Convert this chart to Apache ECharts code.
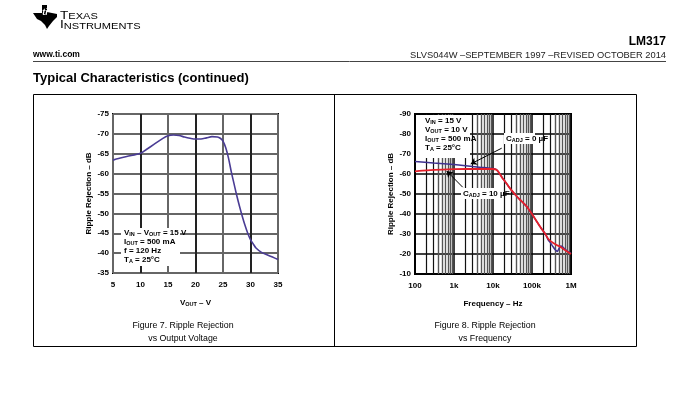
<!DOCTYPE html>
<html><head><meta charset="utf-8">
<script src="https://cdn.jsdelivr.net/npm/echarts@6/dist/echarts.min.js"></script>
<style>html,body{margin:0;padding:0;background:#fff}#c{width:673px;height:395px}</style>
</head><body><div id="c"></div>
<script>
// Figure 7: ripple rejection vs output voltage
const vout = [5, 6, 7.5, 10, 11, 12.5, 14, 15, 16, 17, 18, 19, 20, 21, 22, 23, 24, 24.5, 25, 25.5, 26, 26.5, 27, 27.5, 28, 28.5, 29, 29.5, 30, 30.5, 31, 32, 33, 34, 35];
const rejVout = [-63.4, -63.8, -64.3, -65.1, -66, -67.4, -68.8, -69.5, -69.7, -69.6, -69.2, -68.9, -68.7, -68.7, -69.0, -69.3, -69.2, -68.9, -68.2, -66.5, -63.9, -60.5, -57.5, -54.5, -51.8, -49.3, -47, -45, -43.4, -42.3, -41.3, -40.2, -39.6, -39, -38.4];
// Figure 8: ripple rejection vs frequency
const freqC0 = [100, 300, 1000, 3000, 5000, 10000, 12000, 13500, 15000, 17000, 20000, 25000, 30000, 40000, 50000, 60000, 73000, 85000, 100000, 130000, 170000, 220000, 262000, 300000, 350000, 400000, 446000, 500000, 544000, 620000, 700000, 850000, 1000000];
const rejC0 = [-66.3, -65.5, -64.7, -63.7, -63.3, -62.7, -62.3, -61.3, -60, -58.3, -56.5, -53.8, -51.8, -49, -47, -45.5, -43.8, -42, -40, -36.5, -33, -30, -27, -25.5, -23.5, -22, -21.3, -23, -24, -23.5, -22.3, -21.2, -20.3];
const freqC10 = [100, 200, 500, 1000, 2000, 5000, 10000, 12000, 13500, 15000, 17000, 20000, 25000, 30000, 40000, 50000, 60000, 73000, 85000, 100000, 130000, 170000, 220000, 262000, 350000, 450000, 530000, 700000, 1000000];
const rejC10 = [-61.3, -61.8, -62.2, -62.4, -62.5, -62.5, -62.5, -62.2, -61.3, -60, -58.3, -56.5, -53.8, -51.8, -49, -47, -45.5, -43.8, -42, -40, -36.5, -33, -30, -27.5, -25.5, -24.3, -23.6, -22, -20];
const freqTickLabels = {100: '100', 1000: '1k', 10000: '10k', 100000: '100k', 1000000: '1M'};
const minorFreqs = [200,300,400,500,600,700,800,900,2000,3000,4000,5000,6000,7000,8000,9000,20000,30000,40000,50000,60000,70000,80000,90000,200000,300000,400000,500000,600000,700000,800000,900000];

const F = '"Liberation Sans", Arial, sans-serif';
const lab = {fontFamily: F, fontWeight: 'bold', fontSize: 8, color: '#000'};
const rich = {
  n: {fontFamily: F, fontWeight: 'bold', fontSize: 8, color: '#000'},
  s: {fontFamily: F, fontWeight: 'bold', fontSize: 5.5, color: '#000', verticalAlign: 'bottom'}
};
function txt(x, y, text, extra) {
  return Object.assign({type: 'text', x: x, y: y, z: 60, style: Object.assign({text: text, rich: rich, fill: '#000', font: 'bold 8px ' + F, verticalAlign: 'middle'}, extra || {})});
}
const logoRich = {b: {fontFamily: F, fontSize: 10.5, fill: '#000', verticalAlign: 'bottom'}, m: {fontFamily: F, fontSize: 8.5, fill: '#000', verticalAlign: 'bottom'}};
const chart = echarts.init(document.getElementById('c'));
const graphics = [
  // TI logo (approximate)
  {type: 'polygon', x: 33, y: 5, z: 60, shape: {points: [[9,0],[14,0],[14,7],[24,9],[24,12],[20,16],[16,21],[14,24],[12,20],[8,16],[4,14],[0,8],[9,8]]}, style: {fill: '#000'}},
  {type: 'text', x: 45, y: 13, z: 61, style: {text: 'ti', fill: '#fff', font: 'italic bold 9px ' + F, align: 'center', verticalAlign: 'middle'}},
  {type: 'text', x: 60, y: 16, z: 60, scaleX: 1.3, style: {text: '{b|T}{m|EXAS}', verticalAlign: 'middle', rich: logoRich}},
  {type: 'text', x: 60, y: 25.5, z: 60, scaleX: 1.3, style: {text: '{b|I}{m|NSTRUMENTS}', verticalAlign: 'middle', rich: logoRich}},
  {type: 'text', x: 666, y: 41.5, z: 60, style: {text: 'LM317', fill: '#000', font: 'bold 12px ' + F, align: 'right', verticalAlign: 'middle'}},
  {type: 'text', x: 33, y: 55, z: 60, style: {text: 'www.ti.com', fill: '#000', font: 'bold 8.5px ' + F, verticalAlign: 'middle'}},
  {type: 'text', x: 666, y: 55, z: 60, style: {text: 'SLVS044W –SEPTEMBER 1997 –REVISED OCTOBER 2014', fill: '#222', font: '9.3px ' + F, align: 'right', verticalAlign: 'middle'}},
  {type: 'line', z: 60, shape: {x1: 33, y1: 61.5, x2: 666, y2: 61.5}, style: {stroke: '#444', lineWidth: 1}},
  {type: 'text', x: 33, y: 78, z: 60, style: {text: 'Typical Characteristics (continued)', fill: '#000', font: 'bold 13px ' + F, verticalAlign: 'middle'}},
  {type: 'rect', z: 60, shape: {x: 33.5, y: 94.5, width: 603, height: 252}, style: {fill: 'none', stroke: '#000', lineWidth: 1}},
  {type: 'line', z: 60, shape: {x1: 334.5, y1: 94.5, x2: 334.5, y2: 346.5}, style: {stroke: '#000', lineWidth: 1}},
  {type: 'text', x: 183, y: 326, z: 60, style: {text: 'Figure 7. Ripple Rejection', fill: '#000', font: '8.8px ' + F, align: 'center', verticalAlign: 'middle'}},
  {type: 'text', x: 183, y: 339, z: 60, style: {text: 'vs Output Voltage', fill: '#000', font: '8.8px ' + F, align: 'center', verticalAlign: 'middle'}},
  {type: 'text', x: 485, y: 326, z: 60, style: {text: 'Figure 8. Ripple Rejection', fill: '#000', font: '8.8px ' + F, align: 'center', verticalAlign: 'middle'}},
  {type: 'text', x: 485, y: 339, z: 60, style: {text: 'vs Frequency', fill: '#000', font: '8.8px ' + F, align: 'center', verticalAlign: 'middle'}},
  // Figure 7 annotation box
  {type: 'rect', z: 55, shape: {x: 121, y: 228, width: 59, height: 38}, style: {fill: '#fff'}},
  txt(124, 233, '{n|V}{s|IN}{n| – V}{s|OUT}{n| = 15 V}'),
  txt(124, 242, '{n|I}{s|OUT}{n| = 500 mA}'),
  txt(124, 251, '{n|f = 120 Hz}'),
  txt(124, 260, '{n|T}{s|A}{n| = 25°C}'),
  // Figure 8 annotation boxes
  {type: 'rect', z: 55, shape: {x: 416, y: 115, width: 54, height: 43}, style: {fill: '#fff'}},
  txt(425, 121, '{n|V}{s|IN}{n| = 15 V}'),
  txt(425, 130, '{n|V}{s|OUT}{n| = 10 V}'),
  txt(425, 139, '{n|I}{s|OUT}{n| = 500 mA}'),
  txt(425, 148, '{n|T}{s|A}{n| = 25°C}'),
  {type: 'rect', z: 55, shape: {x: 504, y: 133, width: 31, height: 11}, style: {fill: '#fff'}},
  txt(506, 139, '{n|C}{s|ADJ}{n| = 0 µF}'),
  {type: 'rect', z: 55, shape: {x: 461, y: 188, width: 42, height: 11}, style: {fill: '#fff'}},
  txt(463, 194, '{n|C}{s|ADJ}{n| = 10 µF}')
];

const option = {
  animation: false,
  backgroundColor: '#fff',
  graphic: graphics,
  grid: [
    {left: 113, top: 114, width: 165, height: 159, show: true, borderColor: '#000', borderWidth: 2, backgroundColor: '#fff', outerBoundsMode: 'none'},
    {left: 415, top: 114, width: 156, height: 160, show: true, borderColor: '#000', borderWidth: 2, backgroundColor: '#fff', outerBoundsMode: 'none'}
  ],
  xAxis: [
    {gridIndex: 0, type: 'value', min: 5, max: 35, interval: 5,
     axisLine: {show: false}, axisTick: {show: false},
     axisLabel: Object.assign({margin: 8}, lab),
     splitLine: {show: true, lineStyle: {color: ['#666', '#222'], width: 2}},
     name: '{n|V}{s|OUT}{n| – V}', nameLocation: 'middle', nameGap: 26,
     nameTextStyle: {rich: rich}},
    {gridIndex: 1, type: 'log', logBase: 10, min: 100, max: 1000000, splitNumber: 4,
     axisLine: {show: false}, axisTick: {show: false},
     axisLabel: Object.assign({margin: 8, formatter: v => freqTickLabels[Math.round(v)] || ''}, lab),
     splitLine: {show: true, lineStyle: {color: '#000', width: 1.5}},
     name: 'Frequency – Hz', nameLocation: 'middle', nameGap: 26,
     nameTextStyle: lab}
  ],
  yAxis: [
    {gridIndex: 0, type: 'value', inverse: true, min: -75, max: -35, interval: 5,
     axisLine: {show: false}, axisTick: {show: false},
     axisLabel: Object.assign({margin: 4}, lab),
     splitLine: {show: true, lineStyle: {color: '#666', width: 2}},
     name: 'Ripple Rejection – dB', nameLocation: 'middle', nameGap: 20, nameRotate: 90,
     nameTextStyle: lab},
    {gridIndex: 1, type: 'value', inverse: true, min: -90, max: -10, interval: 10,
     axisLine: {show: false}, axisTick: {show: false},
     axisLabel: Object.assign({margin: 4}, lab),
     splitLine: {show: true, lineStyle: {color: '#000', width: 1.5}},
     name: 'Ripple Rejection – dB', nameLocation: 'middle', nameGap: 20, nameRotate: 90,
     nameTextStyle: lab}
  ],
  series: [
    {type: 'line', xAxisIndex: 0, yAxisIndex: 0, data: vout.map((v, i) => [v, rejVout[i]]),
     smooth: 0.3, symbol: 'none', lineStyle: {color: '#4a3c94', width: 1.6}, z: 3},
    {type: 'line', xAxisIndex: 1, yAxisIndex: 1, data: [[100, -90]], symbol: 'none', lineStyle: {opacity: 0},
     markLine: {silent: true, z: 1, symbol: 'none', label: {show: false}, animation: false,
       data: minorFreqs.map(f => {
         const d = Math.round(f / Math.pow(10, Math.floor(Math.log10(f) + 1e-9)));
         return {xAxis: f, lineStyle: {type: 'solid', color: d <= 3 ? '#111' : '#555', width: d <= 3 ? 1.2 : 1.4}};
       })}},
    {type: 'line', xAxisIndex: 1, yAxisIndex: 1, data: freqC0.map((f, i) => [f, rejC0[i]]),
     smooth: 0.2, symbol: 'none', lineStyle: {color: '#3f3190', width: 1.5}, z: 3},
    {type: 'line', xAxisIndex: 1, yAxisIndex: 1, data: freqC10.map((f, i) => [f, rejC10[i]]),
     smooth: 0.2, symbol: 'none', lineStyle: {color: '#e5202a', width: 1.8}, z: 4,
     markLine: {silent: true, z: 70, symbol: ['none', 'arrow'], symbolSize: 6, label: {show: false},
       lineStyle: {type: 'solid', color: '#000', width: 1},
       data: [
         [{coord: [16700, -72.9]}, {coord: [2680, -65]}],
         [{coord: [1670, -53.4]}, {coord: [650, -61.5]}]
       ]}}
  ]
};
chart.setOption(option);
</script></body></html>
